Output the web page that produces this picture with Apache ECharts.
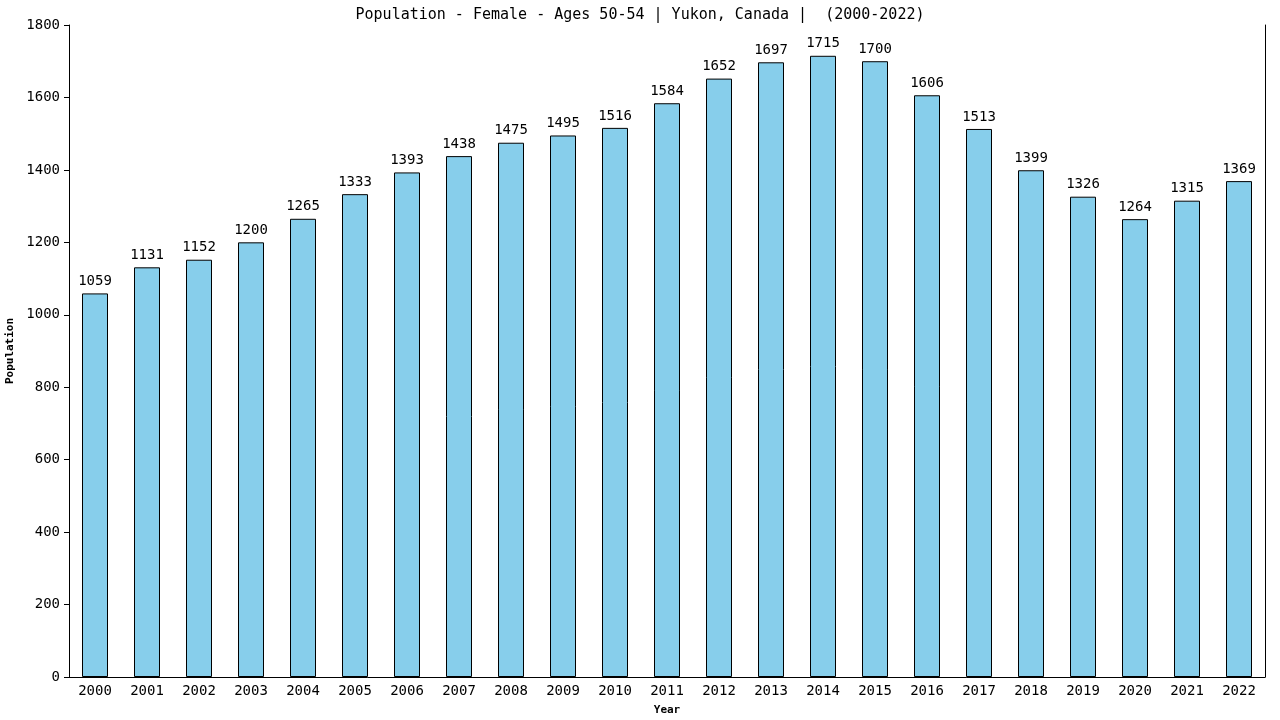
<!DOCTYPE html>
<html><head><meta charset="utf-8">
<script src="https://cdn.jsdelivr.net/npm/echarts@6/dist/echarts.min.js"></script>
<style>html,body{margin:0;padding:0;background:#fff}#c{width:1280px;height:720px}</style>
</head><body><div id="c"></div>
<script>
const years = ['2000','2001','2002','2003','2004','2005','2006','2007','2008','2009','2010','2011','2012','2013','2014','2015','2016','2017','2018','2019','2020','2021','2022'];
const population = [1059,1131,1152,1200,1265,1333,1393,1438,1475,1495,1516,1584,1652,1697,1715,1700,1606,1513,1399,1326,1264,1315,1369];
const yTicks = [0,200,400,600,800,1000,1200,1400,1600,1800];
const FONT = '"DejaVu Sans Mono", monospace';
const chart = echarts.init(document.getElementById('c'));
chart.setOption({
  animation: false,
  title: {text: 'Population - Female - Ages 50-54 | Yukon, Canada |  (2000-2022)', left: 'center', top: 3,
    textStyle: {fontFamily: FONT, fontSize: 15, fontWeight: 'normal', color: '#000'}},
  grid: {left: 69, right: 15, top: 25, bottom: 43, containLabel: false, outerBoundsMode: 'none'},
  xAxis: {type: 'category', data: years, name: 'Year', nameLocation: 'middle', nameGap: 28,
    nameTextStyle: {fontFamily: FONT, fontSize: 11, fontWeight: 'bold', color: '#000'},
    axisLine: {lineStyle: {color: '#000', width: 1}}, axisTick: {show: false},
    axisLabel: {fontFamily: FONT, fontSize: 14, color: '#000', margin: 7, interval: 0}},
  yAxis: [{type: 'value', min: yTicks[0], max: yTicks[yTicks.length-1], interval: 200, name: 'Population', nameLocation: 'middle', nameGap: 47,
    nameTextStyle: {fontFamily: FONT, fontSize: 11, fontWeight: 'bold', color: '#000'},
    axisLine: {show: true, lineStyle: {color: '#000', width: 1}}, axisTick: {show: true, length: 5, lineStyle: {color: '#000'}},
    splitLine: {show: false},
    axisLabel: {fontFamily: FONT, fontSize: 14, color: '#000', margin: 9, formatter: v => String(v)}},
    {type: 'value', position: 'right', min: 0, max: 1800, axisLine: {show: true, lineStyle: {color: '#000', width: 1}},
     axisTick: {show: false}, axisLabel: {show: false}, splitLine: {show: false}}],
  series: [{type: 'bar', data: population, barWidth: '50%',
    itemStyle: {color: '#87CEEB', borderColor: '#000', borderWidth: 1},
    label: {show: true, position: 'top', distance: 5, fontFamily: FONT, fontSize: 14, color: '#000'}}]
});
</script></body></html>
